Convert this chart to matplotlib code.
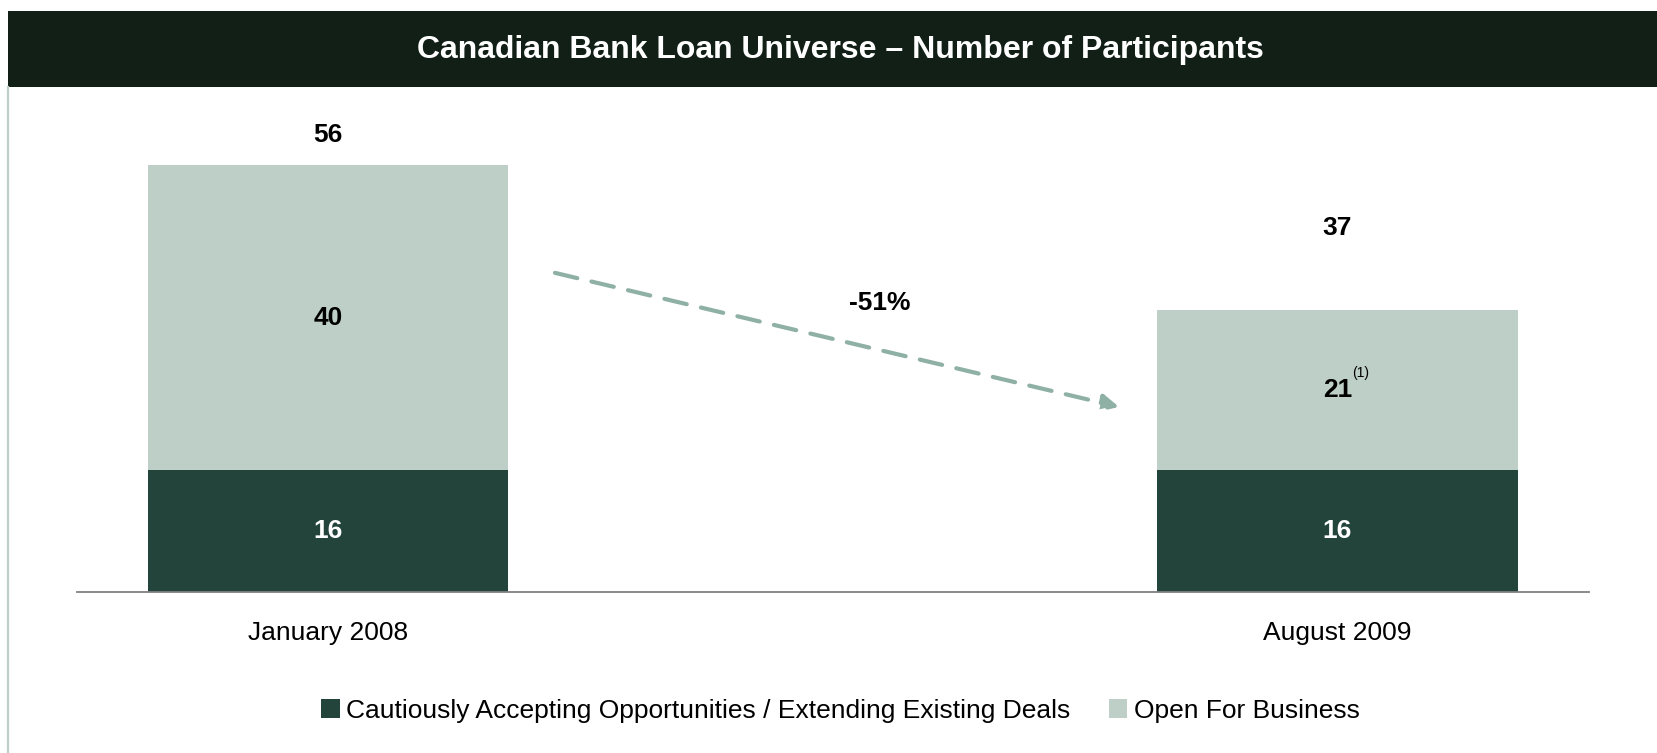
import matplotlib
matplotlib.use("Agg")
import matplotlib.pyplot as plt
from matplotlib.patches import Rectangle, Patch
from matplotlib.lines import Line2D

plt.rcParams['font.family'] = ['Liberation Sans', 'DejaVu Sans']

# ---- data ----
categories = ["January 2008", "August 2009"]
cautious = [16, 16]
open_business = [40, 21]
totals = [56, 37]
series_names = ["Cautiously Accepting Opportunities / Extending Existing Deals", "Open For Business"]
change_label = "-51%"
title = "Canadian Bank Loan Universe \u2013 Number of Participants"

# ---- style ----
HEADER = "#111F16"
DARK = "#22443A"
LIGHT = "#BDCFC6"
ARROW = "#8FB0A5"

W, H = 1658, 753
fig = plt.figure(figsize=(W / 100, H / 100), dpi=100)
fig.patch.set_facecolor("white")

# header band
fig.add_artist(Rectangle((8.5 / W, 1 - 86.7 / H), 1 - 8.5 / W, (86.7 - 10.6) / H,
                         transform=fig.transFigure, facecolor=HEADER, edgecolor="none"))
fig.text(0.507, 1 - 49.7 / H, title, color="white", fontsize=23, fontweight="bold",
         ha="center", va="center")
# left border line
fig.add_artist(Line2D([8.5 / W, 8.5 / W], [0, 1 - 86.7 / H], transform=fig.transFigure,
                      color=LIGHT, lw=1.6))

ax = fig.add_axes([77 / W, (H - 592) / H, 1512 / W, 505 / H])
x = list(range(len(categories)))
bw = 0.357
ax.bar(x, cautious, width=bw, color=DARK, label=series_names[0])
ax.bar(x, open_business, width=bw, bottom=cautious, color=LIGHT, label=series_names[1])
ax.set_xlim(-0.2484, 1.2491)
ax.set_ylim(0, 66.3)

for s in ["top", "right", "left"]:
    ax.spines[s].set_visible(False)
ax.spines["bottom"].set_color("#808080")
ax.spines["bottom"].set_linewidth(1.3)
ax.set_yticks([])
ax.set_xticks(x)
ax.set_xticklabels(categories, fontsize=19)
ax.tick_params(axis="x", length=0, pad=21)

total_offsets = [30, 82]  # px above bar top
for i in x:
    ax.text(i, cautious[i] / 2, str(cautious[i]), color="white", fontsize=19,
            fontweight="bold", ha="center", va="center")
    ax.text(i, cautious[i] + open_business[i] / 2, str(open_business[i]), color="black",
            fontsize=19, fontweight="bold", ha="center", va="center")
    ax.annotate(str(totals[i]), (i, totals[i]), xytext=(0, total_offsets[i] * 0.72),
                textcoords="offset points", ha="center", va="center",
                fontsize=19, fontweight="bold")

# footnote superscript on the 21
ax.annotate("(1)", (1, cautious[1] + open_business[1] / 2), xytext=(17, 12),
            textcoords="offset points", fontsize=10, ha="center", va="center")

# dashed arrow
ax.annotate("", xy=(0.7836, 24.3), xytext=(0.225, 41.9),
            arrowprops=dict(arrowstyle="-|>,head_length=1.0,head_width=0.5",
                            color=ARROW, lw=3, linestyle=(0, (5.5, 3.5)),
                            shrinkA=0, shrinkB=0))
ax.text(0.547, 38.0, change_label, fontsize=19, fontweight="bold", ha="center", va="center")

handles = [Patch(facecolor=DARK, edgecolor="none"), Patch(facecolor=LIGHT, edgecolor="none")]
fig.legend(handles, series_names, loc="center", bbox_to_anchor=(0.507, 0.056), ncol=2,
           frameon=False, fontsize=19, handlelength=0.7, handleheight=0.7,
           handletextpad=0.25, columnspacing=1.45)

fig.savefig("out.png", dpi=100, facecolor="white")
